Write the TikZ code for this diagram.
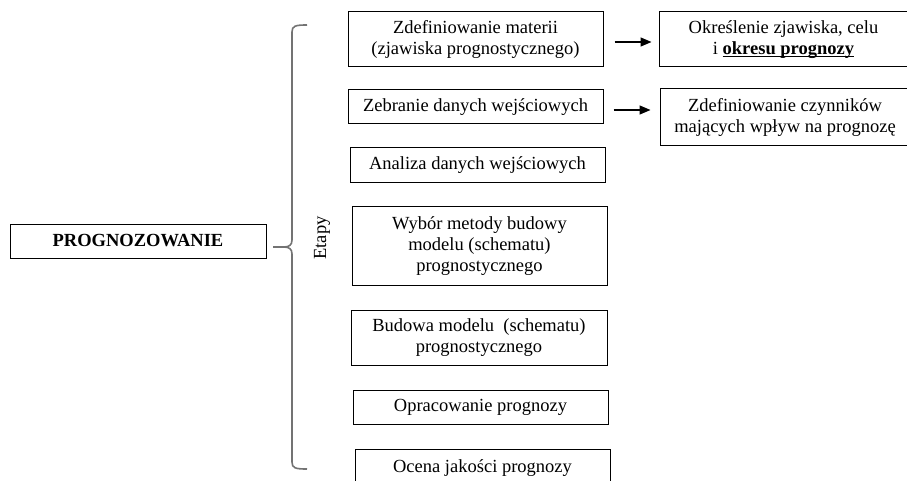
\documentclass[tikz,border=0pt]{standalone}
\usepackage{fontspec}
\setmainfont{Liberation Serif}
\usetikzlibrary{arrows.meta}
\newcommand\myul[1]{\setbox0\hbox{#1}\rlap{\rule[-2.2pt]{\wd0}{1pt}}#1}
\begin{document}
\begin{tikzpicture}[x=1pt,y=-1pt,
  box/.style={draw=black,line width=1pt,rectangle,inner sep=0pt,align=center,
    font=\fontsize{18.5}{21}\selectfont},
  txt/.style={inner sep=0pt,align=center,font=\fontsize{18.5}{21}\selectfont},
  brace/.style={draw=black!55,line width=1.6pt},
  arr/.style={draw=black,line width=1.3pt,-{Triangle[length=11pt,width=9pt]}}]
\path[use as bounding box,clip] (0,0) rectangle (907,481);
\fill[white] (0,0) rectangle (907,481);
\node[box,minimum width=256,minimum height=34] (prog) at (138,241) {\textbf{PROGNOZOWANIE}};
\node[box,minimum width=255,minimum height=55] (s1) at (475.5,39.5) {Zdefiniowanie materii\\(zjawiska prognostycznego)};
\node[box,minimum width=255,minimum height=34] (s2) at (475.5,107) {Zebranie danych wejściowych};
\node[box,minimum width=255,minimum height=35] (s3) at (477.5,165.5) {Analiza danych wejściowych};
\node[box,minimum width=255,minimum height=78] (s4) at (479.5,246) {Wybór metody budowy\\modelu (schematu)\\prognostycznego};
\node[box,minimum width=256,minimum height=55] (s5) at (479,337.5) {Budowa modelu\ \ (schematu)\\prognostycznego};
\node[box,minimum width=255,minimum height=34] (s6) at (480.5,407) {Opracowanie prognozy};
\node[box,minimum width=255,minimum height=38] (s7) at (482.5,468) {Ocena jakości prognozy};
\node[box,minimum width=262,minimum height=55] (rA) at (790,39.5) {};
\node[txt] (rAt) at (783.5,39.5) {Określenie zjawiska, celu\\i \myul{\textbf{okresu prognozy}}};
\node[box,minimum width=262,minimum height=57] (rB) at (791,117.5) {};
\node[txt] (rBt) at (785,117.5) {Zdefiniowanie czynników\\mających wpływ na prognozę};
\node[txt,rotate=90] (etapy) at (322,238) {Etapy};
\coordinate (btop) at (307,25);
\coordinate (bmid) at (273,247);
\coordinate (bbot) at (307,469);
\draw[brace] (btop) .. controls (295,25) and (292,26) .. (292,32) -- (292,240)
  .. controls (292,245) and (289,247) .. (284,247) -- (bmid);
\draw[brace] (284,247) .. controls (289,247) and (292,249) .. (292,254) -- (292,462)
  .. controls (292,468) and (295,469) .. (bbot);
\draw[arr,shorten <=11pt,shorten >=7pt] ([yshift=-2.5pt]s1.east) -- ([yshift=-2.5pt]s1.east -| rA.west);
\draw[arr,shorten <=10pt,shorten >=9pt] ([yshift=-3pt]s2.east) -- ([yshift=-3pt]s2.east -| rB.west);
\end{tikzpicture}
\end{document}
